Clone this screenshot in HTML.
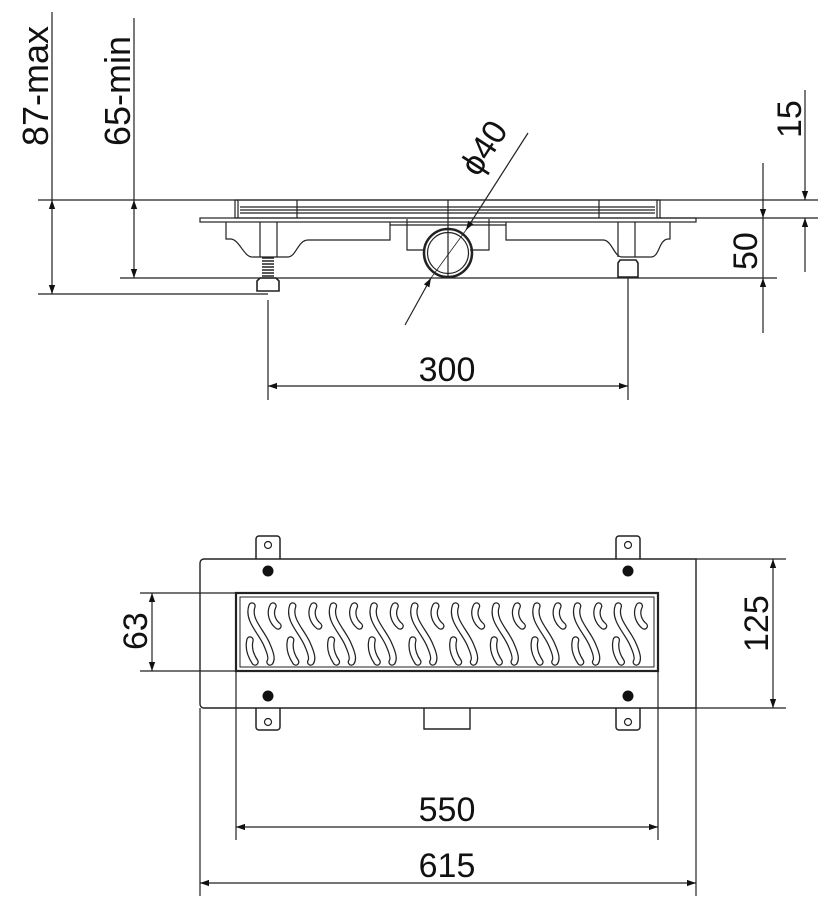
<!DOCTYPE html>
<html><head><meta charset="utf-8"><style>
html,body{margin:0;padding:0;background:#fff}
svg{display:block}
text{font-family:"Liberation Sans Narrow","Liberation Sans",sans-serif;fill:#111}
</style></head><body>
<svg width="839" height="914" viewBox="0 0 839 914" xmlns="http://www.w3.org/2000/svg">
<defs>
<marker id="a" viewBox="0 0 10 10" refX="10" refY="5" markerWidth="9" markerHeight="20" markerUnits="userSpaceOnUse" orient="auto-start-reverse"><path d="M0,1.5 L10,5 L0,8.5 Z" fill="#111"/></marker>
<g id="sl">
<path d="M252,606 C247,620 262,632 267,645 C271,654 272,659 270,662 M273,606 C269,614 273,622 278,626 M250,640 C248,648 251,656 255,662" stroke="#222" stroke-width="7.5" stroke-linecap="round" fill="none"/>
<path d="M252,606 C247,620 262,632 267,645 C271,654 272,659 270,662 M273,606 C269,614 273,622 278,626 M250,640 C248,648 251,656 255,662" stroke="#fff" stroke-width="5" stroke-linecap="round" fill="none"/>
</g>
</defs>
<g stroke="#222" stroke-width="1.2" fill="none">
<line x1="38" y1="200" x2="818" y2="200"/>
<line x1="660" y1="218" x2="818" y2="218"/>
<line x1="120" y1="278" x2="777" y2="278"/>
<line x1="38" y1="294" x2="268" y2="294"/>
<line x1="52" y1="12" x2="52" y2="200"/>
<line x1="134" y1="18" x2="134" y2="200"/>
<line x1="52" y1="200" x2="52" y2="294" marker-start="url(#a)" marker-end="url(#a)"/>
<line x1="134" y1="200" x2="134" y2="278" marker-start="url(#a)" marker-end="url(#a)"/>
<line x1="805" y1="90" x2="805" y2="200" marker-end="url(#a)"/>
<line x1="805" y1="272" x2="805" y2="218" marker-end="url(#a)"/>
<line x1="763" y1="163" x2="763" y2="218" marker-end="url(#a)"/>
<line x1="763" y1="218" x2="763" y2="278"/>
<line x1="763" y1="333" x2="763" y2="278" marker-end="url(#a)"/>
<rect x="235" y="200" width="425" height="18"/>
<line x1="240" y1="207" x2="655" y2="207"/>
<line x1="240" y1="210" x2="655" y2="210"/>
<line x1="240" y1="213" x2="655" y2="213"/>
<line x1="297" y1="200" x2="297" y2="218"/>
<line x1="599" y1="200" x2="599" y2="218"/>
<line x1="238" y1="200" x2="238" y2="218"/><line x1="657" y1="200" x2="657" y2="218"/>
<rect x="200" y="218" width="496" height="4"/>
<path d="M226,222 V239 H231 C240,240 244,258 253,257 H288 C296,257 298,240 308,240 H390 V222"/>
<path d="M506,222 V240 H603 C612,240 614,257 622,257 H650 C660,258 658,240 668,239 H670 V222"/>
<line x1="260" y1="222" x2="260" y2="257"/><line x1="277" y1="222" x2="277" y2="257"/>
<line x1="618" y1="222" x2="618" y2="257"/><line x1="635" y1="222" x2="635" y2="257"/>
<line x1="390" y1="225" x2="506" y2="225"/>
<path d="M407,219 V250 H425"/><path d="M489,219 V250 H470"/>
<line x1="448" y1="200" x2="448" y2="278"/>
<circle cx="448" cy="253" r="24" stroke-width="2.5"/>
<circle cx="448" cy="253" r="20.5"/>
<path d="M262,258 h12 M262,261 h12 M262,264 h12 M262,267 h12 M262,270 h12 M262,273 h12 M262,276 h12" stroke-width="1.5"/>
<path d="M260,278 h16 l3,3 v10 h-22 v-10 z" stroke-width="1.6"/>
<line x1="268" y1="300" x2="268" y2="400"/>
<path d="M620,260 h16 l2,3 v14 h-20 v-14 z" stroke-width="1.6"/>
<line x1="628" y1="278" x2="628" y2="400"/>
<line x1="268" y1="386" x2="628" y2="386" marker-start="url(#a)" marker-end="url(#a)"/>
<line x1="528" y1="133" x2="466" y2="230" marker-end="url(#a)"/>
<line x1="405" y1="325" x2="431" y2="278" marker-end="url(#a)"/>
<line x1="466" y1="230" x2="431" y2="278" stroke-width="0.8"/>

<path d="M204,559 H696 V708 H204 a4,4 0 0 1 -4,-4 V563 a4,4 0 0 1 4,-4 z" stroke-width="1.4"/>
<rect x="236" y="593" width="422" height="78" stroke-width="2.2"/>
<rect x="240" y="597" width="414" height="70" stroke-width="1"/>
<path d="M256,559 V539 a3,3 0 0 1 3,-3 H277 a3,3 0 0 1 3,3 V559" stroke-width="1.5"/>
<path d="M616,559 V539 a3,3 0 0 1 3,-3 H637 a3,3 0 0 1 3,3 V559" stroke-width="1.5"/>
<path d="M256,708 V727 a3,3 0 0 0 3,3 H277 a3,3 0 0 0 3,-3 V708" stroke-width="1.5"/>
<path d="M616,708 V727 a3,3 0 0 0 3,3 H637 a3,3 0 0 0 3,-3 V708" stroke-width="1.5"/>
<circle cx="268" cy="545" r="3.5"/><circle cx="628" cy="545" r="3.5"/>
<circle cx="268" cy="722" r="3.5"/><circle cx="628" cy="722" r="3.5"/>
<path d="M424,708 V729 H470 V708" stroke-width="1.4"/>
<line x1="140" y1="593" x2="236" y2="593"/>
<line x1="140" y1="671" x2="236" y2="671"/>
<line x1="152" y1="593" x2="152" y2="671" marker-start="url(#a)" marker-end="url(#a)"/>
<line x1="696" y1="559" x2="786" y2="559"/>
<line x1="696" y1="708" x2="786" y2="708"/>
<line x1="773" y1="559" x2="773" y2="708" marker-start="url(#a)" marker-end="url(#a)"/>
<line x1="200" y1="708" x2="200" y2="896"/>
<line x1="696" y1="708" x2="696" y2="896"/>
<line x1="236" y1="671" x2="236" y2="840"/>
<line x1="658" y1="671" x2="658" y2="840"/>
<line x1="236" y1="827" x2="658" y2="827" marker-start="url(#a)" marker-end="url(#a)"/>
<line x1="200" y1="883" x2="696" y2="883" marker-start="url(#a)" marker-end="url(#a)"/>
</g>
<g fill="#111">
<circle cx="268" cy="571" r="5.5"/><circle cx="628" cy="571" r="5.5"/>
<circle cx="268" cy="696" r="5.5"/><circle cx="628" cy="696" r="5.5"/>
</g>
<use href="#sl"/><use href="#sl" x="40.7"/><use href="#sl" x="81.4"/><use href="#sl" x="122.1"/><use href="#sl" x="162.8"/><use href="#sl" x="203.5"/><use href="#sl" x="244.2"/><use href="#sl" x="284.9"/><use href="#sl" x="325.6"/><use href="#sl" x="366.3"/>
<text transform="translate(48,146) rotate(-90)" font-size="36">87-max</text>
<text transform="translate(130,146) rotate(-90)" font-size="36">65-min</text>
<text transform="translate(801,138) rotate(-90)" font-size="34">15</text>
<text transform="translate(757,270) rotate(-90)" font-size="34">50</text>
<text transform="translate(478,178) rotate(-57)" font-size="34">ϕ40</text>
<text x="447" y="381" font-size="34" text-anchor="middle">300</text>
<text transform="translate(147,650) rotate(-90)" font-size="34">63</text>
<text transform="translate(768,652) rotate(-90)" font-size="34">125</text>
<text x="447" y="821" font-size="34" text-anchor="middle">550</text>
<text x="447" y="877" font-size="34" text-anchor="middle">615</text>
</svg>
</body></html>
